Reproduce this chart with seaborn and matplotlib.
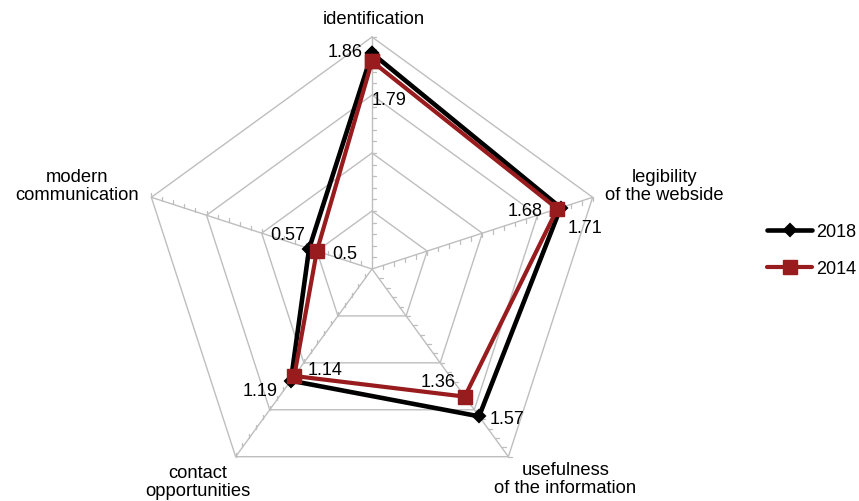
import numpy as np
import pandas as pd
import matplotlib
matplotlib.use("Agg")
import matplotlib.pyplot as plt
import seaborn as sns

# ---- data ----
categories = ["identification", "legibility\nof the webside", "usefulness\nof the information",
              "contact\nopportunities", "modern\ncommunication"]
values_2018 = [1.86, 1.71, 1.57, 1.19, 0.57]
values_2014 = [1.79, 1.68, 1.36, 1.14, 0.50]
series_names = ["2018", "2014"]
ring_levels = [0.5, 1.0, 1.5, 2.0]
r_max = 2.0

sns.set_theme(style="white")
plt.rcParams["font.family"] = ["Liberation Sans", "DejaVu Sans"]
plt.rcParams["text.color"] = "black"

W, H = 859, 502
fig = plt.figure(figsize=(W / 100, H / 100), dpi=100)
ax = fig.add_axes([0, 0, 1, 1])
cx, cy, s = 372, 270, 116.0
ax.set_xlim(-cx / s, (W - cx) / s)
ax.set_ylim(-(H - cy) / s, cy / s)
ax.set_axis_off()

n = len(categories)
angles = np.deg2rad(90 - 72 * np.arange(n))
grid_c = "#BEBEBE"

# rings
for lv in ring_levels:
    xs = np.r_[lv * np.cos(angles), lv * np.cos(angles[0])]
    ys = np.r_[lv * np.sin(angles), lv * np.sin(angles[0])]
    ax.plot(xs, ys, color=grid_c, lw=1.0, zorder=1)
# spokes + minor ticks
tick_len = 4.0 / s
tick_dirs = [(1, 0), (0, -1), (1, 0), (0, 1), (0, 1)]
for a, (tx, ty) in zip(angles, tick_dirs):
    ax.plot([0, r_max * np.cos(a)], [0, r_max * np.sin(a)], color=grid_c, lw=1.0, zorder=1)
    for k in range(1, 21):
        r = k * 0.1
        px, py = r * np.cos(a), r * np.sin(a)
        ax.plot([px, px + tx * tick_len], [py, py + ty * tick_len], color=grid_c, lw=0.9, zorder=1)

# category labels
cat_offsets = [(2, 18), (72, 12), (57, -22), (-38, -25), (-74, 12)]
for lab, a, off in zip(categories, angles, cat_offsets):
    ax.annotate(lab, (r_max * np.cos(a), r_max * np.sin(a)), xytext=off, textcoords="offset pixels",
                ha="center", va="center", multialignment="center", fontsize=13.2, color="#000000",
                linespacing=1.05)

# series
black = "#000000"
red = "#981B1E"
def poly_df(vals):
    v = list(vals) + [vals[0]]
    a = list(angles) + [angles[0]]
    return pd.DataFrame({"x": np.array(v) * np.cos(a), "y": np.array(v) * np.sin(a),
                         "order": range(len(v))})

sns.lineplot(data=poly_df(values_2018), x="x", y="y", sort=False, estimator=None, ax=ax,
             color=black, lw=3.3, marker="D", markersize=6.5, markeredgecolor=black,
             markeredgewidth=1.5, label=series_names[0], zorder=3)
sns.lineplot(data=poly_df(values_2014), x="x", y="y", sort=False, estimator=None, ax=ax,
             color=red, lw=3.0, marker="s", markersize=10, markeredgecolor=red,
             markeredgewidth=1, label=series_names[1], zorder=4)

# value labels
off_2018 = [(-27, 2), (24, -20), (28, -2), (-31, -10), (-21, 14)]
off_2014 = [(17, -38), (-32, -2), (-27, 15), (31, 6), (28, -2)]
for vals, offs in ((values_2018, off_2018), (values_2014, off_2014)):
    for v, a, off in zip(vals, angles, offs):
        ax.annotate(f"{v:g}", (v * np.cos(a), v * np.sin(a)), xytext=off, textcoords="offset pixels",
                    ha="center", va="center", fontsize=13, color="#000000", zorder=5)

ax.set_xlabel("")
ax.set_ylabel("")
leg = ax.legend(loc="center left", bbox_to_anchor=(767 / W, 251 / H), bbox_transform=fig.transFigure,
                frameon=False, handlelength=2.5, handletextpad=0.2, labelspacing=1.1, borderpad=0,
                borderaxespad=0, fontsize=13)
for t in leg.get_texts():
    t.set_color("black")

fig.savefig("out.png", dpi=100, facecolor="white")
